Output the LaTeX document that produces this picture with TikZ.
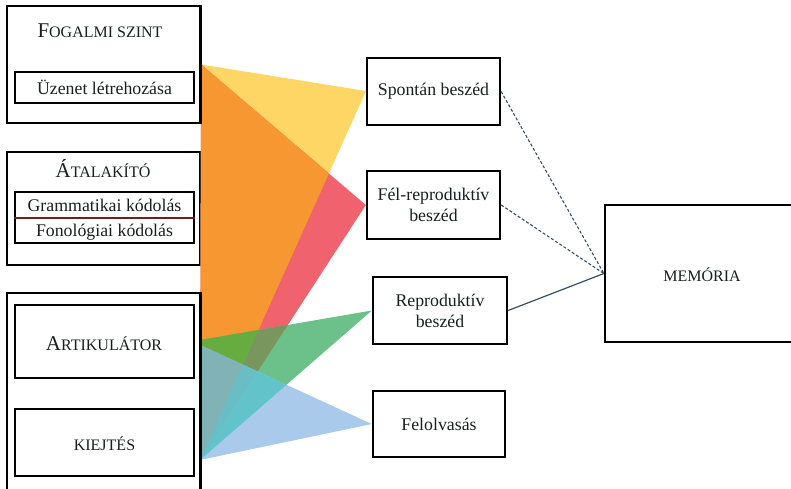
\documentclass[tikz,border=0pt]{standalone}
\usepackage{fontspec}
\setmainfont{Liberation Serif}
\definecolor{cY}{RGB}{253,214,102}
\definecolor{cR}{RGB}{239,98,110}
\definecolor{cO}{RGB}{247,151,50}
\definecolor{cG}{RGB}{108,192,138}
\definecolor{cGO}{RGB}{103,172,62}
\definecolor{cGR}{RGB}{122,150,95}
\definecolor{cL}{RGB}{170,202,235}
\definecolor{cLG}{RGB}{98,196,202}
\definecolor{cLGO}{RGB}{128,178,182}
\definecolor{cLGR}{RGB}{104,190,196}
\definecolor{txt}{RGB}{25,30,30}
\definecolor{conn}{RGB}{55,78,98}
\definecolor{divline}{RGB}{110,30,30}
\newcommand\mysc[2]{{\fontsize{21}{21}\selectfont #1}{\fontsize{16}{16}\selectfont #2}}
\tikzset{
  box/.style={draw=black, line width=2.3pt, rectangle, inner sep=0pt},
  thinbox/.style={draw=black, line width=1.4pt, rectangle, inner sep=0pt},
  lbl/.style={text=txt, inner sep=0pt, font=\fontsize{17.8}{21}\selectfont, align=center},
  caps/.style={text=txt, inner sep=0pt, font=\fontsize{16}{16}\selectfont},
  dashconn/.style={draw=conn, line width=1.1pt, dash pattern=on 3pt off 2pt},
  solidconn/.style={draw=conn, line width=1.2pt}
}
\begin{document}
\begin{tikzpicture}[x=1pt,y=-1pt]
\useasboundingbox (0,0) rectangle (791,488);
\begin{scope}
\clip (0,0) rectangle (791,488);
% boxes (geometry)
\node[box, minimum width=193, minimum height=117] (fog) at (103.5,64.5) {};
\node[thinbox, minimum width=179, minimum height=31] (uzen) at (104.5,87.5) {};
\node[box, minimum width=193, minimum height=113] (atal) at (103.5,208.5) {};
\node[thinbox, minimum width=179, minimum height=51, line width=1.8pt] (kod) at (104.5,217.5) {};
\node[box, minimum width=193, minimum height=202] (artout) at (103.5,394) {};
\node[box, minimum width=179, minimum height=73] (artik) at (104.5,341.5) {};
\node[box, minimum width=179, minimum height=67] (kiejt) at (104.5,442.5) {};
\node[box, minimum width=133, minimum height=67] (spont) at (433.5,91.5) {};
\node[box, minimum width=133, minimum height=68] (fel) at (433.5,205) {};
\node[box, minimum width=134, minimum height=67] (repro) at (440,310.5) {};
\node[box, minimum width=132, minimum height=66] (felolv) at (439,424) {};
\node[box, minimum width=260, minimum height=137] (mem) at (735,273.5) {};
% fan vertices
\coordinate (A) at (fog.east);
\coordinate (S) at (366,91);
\coordinate (F) at (fel.west);
\coordinate (B) at (200,460);
\coordinate (P) at (repro.west);
\coordinate (C) at (200,340);
\coordinate (D) at (200,345);
\coordinate (Q) at (felolv.west);
\coordinate (X) at (intersection of A--F and S--B);
% colored fans
\fill[cY] (A)--(S)--(B)--cycle;
\fill[cR] (A)--(F)--(B)--cycle;
\fill[cO] (A)--(X)--(B)--cycle;
\fill[cG] (P)--(C)--(B)--cycle;
\begin{scope}
  \clip (A)--(X)--(B)--cycle;
  \fill[cGO] (P)--(C)--(B)--cycle;
\end{scope}
\begin{scope}
  \clip (X)--(F)--(B)--cycle;
  \fill[cGR] (P)--(C)--(B)--cycle;
\end{scope}
\fill[cL] (Q)--(D)--(B)--cycle;
\begin{scope}
  \clip (P)--(C)--(B)--cycle;
  \fill[cLG] (Q)--(D)--(B)--cycle;
\end{scope}
\begin{scope}
  \clip (P)--(C)--(B)--cycle;
  \clip (A)--(X)--(B)--cycle;
  \fill[cLGO] (Q)--(D)--(B)--cycle;
\end{scope}
\begin{scope}
  \clip (P)--(C)--(B)--cycle;
  \clip (X)--(F)--(B)--cycle;
  \fill[cLGR] (Q)--(D)--(B)--cycle;
\end{scope}
% redraw box borders on top of the fans
\draw[line width=2.3pt] (artout.north east) -- (artout.south east);
\draw[line width=2.3pt] (fog.north east) -- (fog.south east);
% divider between the two coding rows
\coordinate (kodl) at ([yshift=-0.5pt]kod.west);
\coordinate (kodr) at ([yshift=-0.5pt]kod.east);
\draw[divline, line width=1.3pt] (kodl) -- (kodr);
% labels
\node[caps, anchor=base] (tfog) at (100,37) {\mysc{F}{OGALMI SZINT}};
\node[lbl] (tuzen) at (uzen.center) {Üzenet létrehozása};
\node[caps, anchor=base] (tatal) at (103,177) {\mysc{Á}{TALAKÍTÓ}};
\node[lbl, anchor=base] (tgram) at (104.5,211) {Grammatikai kódolás};
\node[lbl, anchor=base] (tfono) at (104.5,236) {Fonológiai kódolás};
\node[caps] (tartik) at (104,344) {\mysc{A}{RTIKULÁTOR}};
\node[caps] (tkiejt) at (104.5,444) {KIEJTÉS};
\node[lbl] (tspont) at (spont.center) {Spontán beszéd};
\node[lbl] (tfel) at (fel.center) {Fél-reproduktív\\beszéd};
\node[lbl] (trepro) at (repro.center) {Reproduktív\\beszéd};
\node[lbl] (tfelolv) at (felolv.center) {Felolvasás};
\node[caps] (tmem) at (702,275) {MEMÓRIA};
% connectors
\draw[dashconn] (spont.east) -- (mem.west);
\draw[dashconn] (fel.east) -- (mem.west);
\draw[solidconn] (repro.east) -- (mem.west);
\end{scope}
\end{tikzpicture}
\end{document}
